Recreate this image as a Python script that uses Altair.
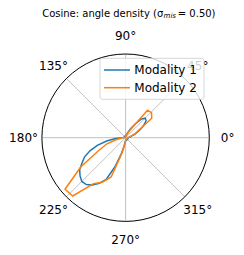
import altair as alt
import pandas as pd

# ---------------- data ----------------
SERIES = ["Modality 1", "Modality 2"]
COLORS = ["#1f77b4", "#ff7f0e"]

M1_ANGLES = [0, 5, 10, 15, 20, 25, 30, 35, 40, 45, 50, 55, 60, 65, 70, 75, 80,
             85, 90, 95, 100, 105, 110, 115, 120, 125, 130, 135, 140, 145, 150,
             155, 160, 165, 170, 175,
             180, 185, 190, 195, 200, 205, 210, 215, 220, 225, 230, 235, 240,
             245, 250, 255, 260, 265, 270,
             275, 280, 285, 290, 295, 300, 305, 310, 315, 320, 325, 330, 335,
             340, 345, 350, 355]
M1_DENSITY = [0.04, 0.04, 0.06, 0.07, 0.11, 0.15, 0.21, 0.27, 0.32, 0.33, 0.29,
              0.20, 0.13, 0.08, 0.05, 0.04, 0.02,
              0.02, 0.02, 0.02, 0.02, 0.02, 0.02, 0.02, 0.02, 0.02, 0.02, 0.02,
              0.02, 0.02, 0.02, 0.02, 0.02, 0.02, 0.02, 0.02,
              0.05, 0.12, 0.23, 0.35, 0.45, 0.54, 0.60, 0.67, 0.71, 0.74, 0.73,
              0.69, 0.63, 0.55, 0.37, 0.20, 0.10, 0.05, 0.04,
              0.03, 0.03, 0.03, 0.03, 0.03, 0.03, 0.03, 0.03, 0.03, 0.03, 0.03,
              0.03, 0.03, 0.03, 0.03, 0.03, 0.03]

M2_ANGLES = [0.0, 7.3, 14.7, 22.0, 29.4, 36.7, 44.1, 51.4, 58.8, 66.1, 73.5, 80.8,
             88.2, 95.5, 102.9, 110.2, 117.6, 124.9, 132.2, 139.6, 146.9, 154.3,
             161.6, 169.0,
             176.3, 183.7, 191.0, 198.4, 205.7, 213.1, 220.4, 227.8, 235.1, 242.4,
             249.8, 257.1, 264.5, 271.8,
             279.2, 286.5, 293.9, 301.2, 308.6, 315.9, 323.3, 330.6, 338.0, 345.3,
             352.7, 360.0]
M2_DENSITY = [0.02, 0.04, 0.06, 0.12, 0.18, 0.39, 0.43, 0.42, 0.11, 0.05, 0.03, 0.02,
              0.01, 0.01, 0.01, 0.01, 0.01, 0.01, 0.01, 0.01, 0.01, 0.01, 0.01, 0.01,
              0.02, 0.05, 0.11, 0.24, 0.36, 0.64, 0.95, 0.94, 0.67, 0.60, 0.50, 0.18,
              0.06, 0.03,
              0.02, 0.02, 0.02, 0.02, 0.02, 0.02, 0.02, 0.02, 0.02, 0.02, 0.02, 0.02]

TICK_ANGLES = [0, 45, 90, 135, 180, 225, 270, 315]
TICK_LABELS = ["0°", "45°", "90°", "135°", "180°", "225°", "270°", "315°"]
TITLE_MAIN = "Cosine: angle density (σ"
TITLE_SUB = "mis"
TITLE_END = "= 0.50)"

# ---------------- layout ----------------
W, H = 228, 239
R = 83.7            # circle radius in px
CX, CY = 117.6, 129.7
RMAX = 1.0
LABEL_R = 1.219
FONT = "DejaVu Sans"

rows = []
for name, angs, dens in [(SERIES[0], M1_ANGLES, M1_DENSITY),
                         (SERIES[1], M2_ANGLES, M2_DENSITY)]:
    pts = list(zip(angs, dens))
    if angs[-1] < 360:
        pts.append((angs[0] + 360, dens[0]))
    for i, (a, d) in enumerate(pts):
        rows.append({"series": name, "angle": a, "density": d, "idx": i})
curves = pd.DataFrame(rows)
ticks = pd.DataFrame({"angle": TICK_ANGLES, "label": TICK_LABELS})

xs = alt.Scale(domain=[-CX / R * RMAX, (W - CX) / R * RMAX], nice=False, zero=False)
ys = alt.Scale(domain=[-(H - CY) / R * RMAX, CY / R * RMAX], nice=False, zero=False)

spokes = alt.Chart(ticks).transform_calculate(
    x0="0", y0="0",
    x1=f"{RMAX}*cos(datum.angle*PI/180)",
    y1=f"{RMAX}*sin(datum.angle*PI/180)",
).mark_rule(color="#b0b0b0", strokeWidth=0.8).encode(
    x=alt.X("x0:Q", scale=xs, axis=None),
    y=alt.Y("y0:Q", scale=ys, axis=None),
    x2="x1:Q", y2="y1:Q",
)

circle = alt.Chart(pd.DataFrame({"x": [0.0], "y": [0.0]})).mark_point(
    shape="circle", size=(2 * R) ** 2, filled=False, color="black",
    strokeWidth=1, opacity=1,
).encode(
    x=alt.X("x:Q", scale=xs, axis=None),
    y=alt.Y("y:Q", scale=ys, axis=None),
)

lines = alt.Chart(curves).transform_calculate(
    px="datum.density*cos(datum.angle*PI/180)",
    py="datum.density*sin(datum.angle*PI/180)",
).mark_line(strokeWidth=1.5).encode(
    x=alt.X("px:Q", scale=xs, axis=None),
    y=alt.Y("py:Q", scale=ys, axis=None),
    color=alt.Color("series:N", scale=alt.Scale(domain=SERIES, range=COLORS), legend=None),
    order=alt.Order("idx:Q"),
)

labels = alt.Chart(ticks).transform_calculate(
    lx=f"{LABEL_R * RMAX}*cos(datum.angle*PI/180)",
    ly=f"{LABEL_R * RMAX}*sin(datum.angle*PI/180)",
).mark_text(font=FONT, fontSize=12, align="center", baseline="middle", color="black").encode(
    x=alt.X("lx:Q", scale=xs, axis=None),
    y=alt.Y("ly:Q", scale=ys, axis=None),
    text="label:N",
)

one = pd.DataFrame({"a": [0]})
legend_bg = alt.Chart(one).mark_rect(
    fill="white", fillOpacity=0.8, stroke="#cccccc", strokeOpacity=0.8,
    strokeWidth=1, cornerRadius=2.5,
).encode(x=alt.value(92), x2=alt.value(196), y=alt.value(50.3), y2=alt.value(91.3))

legend_layers = []
for i, name in enumerate(SERIES):
    ldf = pd.DataFrame({"series": [name]})
    yy = 62 + 17.7 * i
    legend_layers.append(
        alt.Chart(ldf).mark_rule(color=COLORS[i], strokeWidth=1.5).encode(
            x=alt.value(96), x2=alt.value(122), y=alt.value(yy))
    )
    legend_layers.append(
        alt.Chart(ldf).mark_text(font=FONT, fontSize=12, align="left",
                                 baseline="middle", color="black").encode(
            x=alt.value(126.3), y=alt.value(yy), text="series:N")
    )

SUB_X = 155.3
title_df = pd.DataFrame({"a": [TITLE_MAIN], "b": [TITLE_SUB], "c": [TITLE_END]})
title_a = alt.Chart(title_df).mark_text(
    font=FONT, fontSize=10, align="right", baseline="alphabetic", color="black"
).encode(x=alt.value(SUB_X), y=alt.value(8.7), text="a:N")
title_b = alt.Chart(title_df).mark_text(
    font=FONT, fontSize=7, fontStyle="italic", align="left", baseline="alphabetic",
    color="black"
).encode(x=alt.value(SUB_X + 0.3), y=alt.value(10.3), text="b:N")
title_c = alt.Chart(title_df).mark_text(
    font=FONT, fontSize=10, align="left", baseline="alphabetic", color="black"
).encode(x=alt.value(SUB_X + 14.5), y=alt.value(8.7), text="c:N")

chart = alt.layer(spokes, circle, lines, labels, legend_bg, *legend_layers,
                  title_a, title_b, title_c).properties(
    width=W, height=H, autosize=alt.AutoSizeParams(type="none"), padding=0
).configure_view(stroke=None)

chart.save("out.html", embed_options={"renderer": "svg", "actions": False})
